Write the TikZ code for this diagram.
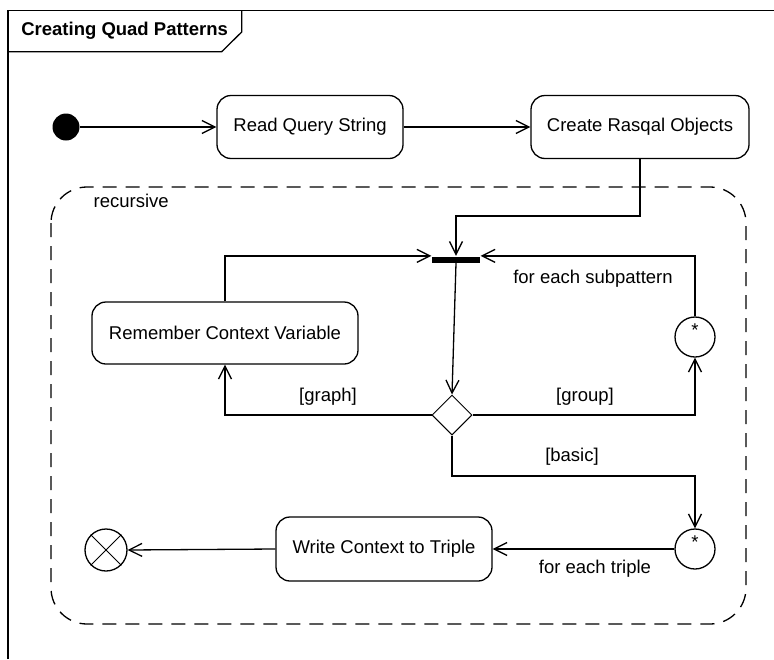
\documentclass[tikz,border=0pt]{standalone}
\usepackage{fontspec}
\setmainfont{Liberation Sans}
\usetikzlibrary{arrows.meta,shapes.geometric,calc}
\begin{document}
\begin{tikzpicture}[x=1pt,y=-1pt,
  line width=1.3pt,
  every node/.style={font=\fontsize{18.5}{22}\selectfont},
  action/.style={draw, rectangle, rounded corners=14pt, inner sep=0pt},
  flow/.style={-{Straight Barb[length=13pt,width=13pt,line width=1.3pt]}},
  region/.style={dash pattern=on 14pt off 9pt, rounded corners=36pt},
  pin/.style={draw, circle, minimum size=40pt, inner sep=0pt},
  lbl/.style={inner sep=0pt}
]
\useasboundingbox (0,0) rectangle (774,659);
\fill[white] (0,0) rectangle (774,659);

% diagram frame with its name tab
\draw (8,659) -- (8,10.7) -- (774,10.7);
\draw (8,51.7) -- (221.7,51.7) -- (241.7,32) -- (241.7,10.7);
\node[anchor=west, lbl, font=\bfseries\fontsize{18.5}{22}\selectfont] (title) at (20.7,31) {Creating Quad Patterns};

% recursive region
\draw[region] (51,187) rectangle (746,624);
\node[anchor=west, lbl] (reclbl) at (93,201) {recursive};

% nodes
\node[circle, fill, minimum size=27pt, inner sep=0pt] (start) at (66,127) {};
\node[action, minimum width=186pt, minimum height=63pt] (rqs) at (310,127) {Read Query String};
\node[action, minimum width=218pt, minimum height=63pt] (cro) at (640,127) {Create Rasqal Objects};
\node[fill, minimum width=48pt, minimum height=6pt, inner sep=0pt] (bar) at (456,259.5) {};
\node[action, minimum width=266pt, minimum height=62pt] (rem) at (225,333) {Remember Context Variable};
\node[diamond, draw, minimum size=40pt, inner sep=0pt, line width=1pt] (dia) at (452,415) {};
\node[pin] (c1) at (695,337) {};
\node[lbl] (c1star) at (695,330) {*};
\node[pin] (c2) at (695,549) {};
\node[lbl] (c2star) at (695,542) {*};
\node[action, minimum width=216pt, minimum height=64pt] (wct) at (384,549) {Write Context to Triple};
\node[draw, circle, minimum size=42pt, inner sep=0pt] (fin) at (106,550) {};
\draw[line width=1pt] (fin.north west) -- (fin.south east) (fin.north east) -- (fin.south west);

% flows
\coordinate (kinkA) at (0,216);
\coordinate (kinkB) at (0,476);
\draw[flow] (start) -- (rqs);
\draw[flow] (rqs) -- (cro);
\draw[flow] (cro.south) -- (cro.south |- kinkA) -| (bar.north);
\draw[flow] (rem.north) |- (bar.north west);
\draw[flow] (c1.north) |- (bar.north east);
\draw[flow] (bar.south) -- (dia.north);
\draw[flow] (dia.west) -| (rem.south);
\draw[flow] (dia.east) -| (c1.south);
\draw[flow] (dia.south) -- (dia.south |- kinkB) -| (c2.north);
\draw[flow] (c2.west) -- (wct.east);
\draw[flow] (wct.west) -- (fin.east);

% guard and loop labels
\node[lbl] (sublbl) at (593,279) {for each subpattern};
\node[lbl] (graphlbl) at (328,397) {[graph]};
\node[lbl] (grouplbl) at (585,397) {[group]};
\node[lbl] (basiclbl) at (572,457) {[basic]};
\node[lbl] (triplbl) at (595,569) {for each triple};
\end{tikzpicture}
\end{document}
